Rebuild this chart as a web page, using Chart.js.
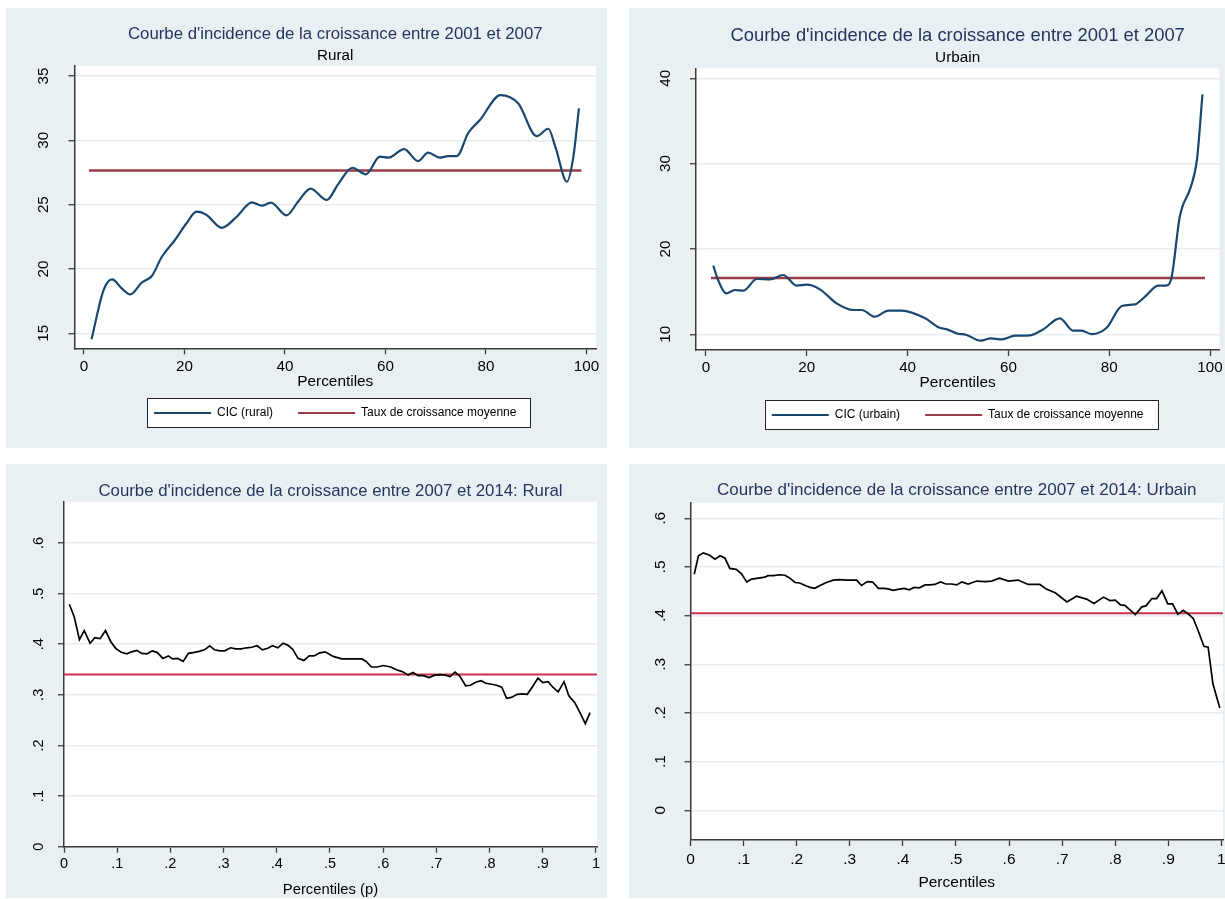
<!DOCTYPE html>
<html>
<head>
<meta charset="utf-8">
<script src="https://cdn.jsdelivr.net/npm/chart.js@4.4.1/dist/chart.umd.min.js"></script>
<style>
body { margin: 0; background: #fff; }
canvas { position: absolute; background: #e9f0f3; }
</style>
</head>
<body>
<canvas id="cicRural" width="601" height="440" style="left:6px;top:8px"></canvas>
<canvas id="cicUrbain" width="596" height="440" style="left:629px;top:8px"></canvas>
<canvas id="cicRural14" width="601" height="434" style="left:6px;top:464px"></canvas>
<canvas id="cicUrbain14" width="596" height="434" style="left:629px;top:464px"></canvas>
<script>
// 2001-2007, rural
const ruralPct = [1.5, 3.9, 5.6, 7.5, 9.2, 11.5, 13.5, 15.5, 18.1, 20.4, 22.4, 24.4, 27.4, 30.4, 33.4, 35.4, 37.2, 40.3, 42.6, 45.1, 48.3, 50.6, 53.4, 56.1, 58.9, 60.6, 63.7, 66.5, 68.5, 70.8, 72.5, 74.2, 76.5, 78.8, 82.9, 86.4, 90.1, 92.4, 93.9, 96.1, 97.4, 98.5];
const ruralCic = [14.53, 18.36, 19.19, 18.49, 18.02, 18.93, 19.45, 20.95, 22.25, 23.55, 24.45, 24.19, 23.2, 24.06, 25.18, 24.92, 25.15, 24.17, 25.23, 26.24, 25.36, 26.6, 27.87, 27.36, 28.73, 28.65, 29.32, 28.39, 29.04, 28.65, 28.78, 28.78, 30.59, 31.58, 33.52, 32.88, 30.33, 30.9, 29.38, 26.78, 28.73, 32.49];
const ruralMean = 27.65;

// 2001-2007, urbain
const urbainPct = [1.45, 2.4, 4.0, 5.75, 7.4, 10.1, 12.7, 15.3, 18.0, 20.0, 22.6, 25.9, 29.2, 30.9, 33.5, 36.2, 38.8, 43.5, 46.1, 47.8, 49.8, 51.7, 54.5, 56.5, 58.7, 61.3, 64.3, 66.9, 70.2, 72.9, 74.5, 76.5, 79.5, 82.5, 85.1, 87.1, 89.7, 91.5, 92.4, 94.0, 96.2, 97.4, 98.5];
const urbainCic = [18.04, 16.36, 14.8, 15.19, 15.11, 16.48, 16.44, 16.95, 15.7, 15.81, 15.27, 13.63, 12.85, 12.85, 12.06, 12.77, 12.77, 11.87, 10.82, 10.58, 10.1, 9.92, 9.25, 9.53, 9.41, 9.84, 9.88, 10.58, 11.87, 10.42, 10.42, 10.03, 10.77, 13.32, 13.51, 14.41, 15.7, 15.74, 16.75, 23.78, 27.3, 30.43, 38.12];
const urbainMean = 16.6;

const meanSpan0107 = [1, 99];
const pctTicks = [0, 20, 40, 60, 80, 100];
const pctTickLabels = ['0', '20', '40', '60', '80', '100'];
const ruralTicks = [15, 20, 25, 30, 35];
const ruralTickLabels = ['15', '20', '25', '30', '35'];
const urbainTicks = [10, 20, 30, 40];
const urbainTickLabels = ['10', '20', '30', '40'];

// 2007-2014, rural
const rural14P = [.010, .019, .029, .038, .049, .058, .068, .078, .088, .098, .108, .118, .127, .137, .146, .156, .166, .175, .186, .196, .204, .214, .224, .234, .245, .254, .264, .274, .283, .293, .302, .313, .323, .333, .343, .353, .363, .373, .383, .392, .402, .412, .421, .430, .440, .451, .461, .470, .481, .491, .506, .522, .541, .560, .568, .578, .589, .600, .614, .626, .636, .647, .656, .666, .676, .686, .697, .707, .716, .726, .735, .744, .755, .764, .774, .784, .793, .804, .813, .823, .832, .841, .852, .862, .871, .882, .891, .900, .910, .919, .929, .940, .949, .960, .970, .980, .989];
const rural14Cic = [.479, .455, .409, .427, .402, .413, .411, .427, .405, .391, .384, .381, .385, .388, .382, .381, .387, .384, .372, .377, .371, .372, .366, .382, .384, .386, .389, .397, .389, .387, .387, .393, .391, .391, .393, .394, .397, .389, .392, .397, .393, .402, .398, .390, .372, .368, .377, .377, .383, .385, .376, .371, .371, .371, .366, .355, .355, .358, .355, .349, .346, .339, .344, .338, .338, .334, .339, .340, .339, .336, .345, .337, .318, .319, .325, .328, .323, .321, .319, .315, .293, .295, .301, .302, .301, .318, .333, .324, .326, .315, .306, .326, .298, .285, .265, .243, .265];
const rural14Mean = .34;

// 2007-2014, urbain
const urbain14P = [.007, .015, .024, .036, .046, .056, .065, .074, .086, .096, .106, .115, .128, .140, .146, .156, .168, .178, .187, .197, .206, .216, .225, .234, .244, .256, .269, .281, .294, .313, .322, .333, .343, .354, .364, .372, .382, .391, .402, .412, .421, .431, .442, .451, .460, .471, .481, .492, .501, .511, .523, .539, .555, .567, .582, .599, .617, .636, .658, .671, .687, .709, .727, .746, .760, .778, .790, .800, .810, .818, .838, .850, .858, .869, .878, .888, .899, .908, .918, .928, .938, .947, .957, .967, .975, .984, .997];
const urbain14Cic = [.485, .523, .529, .524, .516, .523, .518, .497, .495, .486, .469, .475, .477, .479, .482, .482, .484, .483, .477, .468, .467, .462, .458, .456, .462, .468, .473, .474, .473, .473, .462, .470, .469, .456, .456, .455, .452, .454, .456, .453, .458, .457, .463, .463, .464, .469, .465, .465, .463, .469, .465, .471, .470, .471, .477, .471, .473, .464, .464, .454, .447, .428, .440, .434, .425, .438, .431, .432, .422, .421, .402, .418, .420, .435, .435, .451, .424, .424, .403, .411, .403, .394, .367, .337, .335, .260, .210];
const urbain14Mean = .405;

const pTicks = [0, .1, .2, .3, .4, .5, .6, .7, .8, .9, 1];
const pTickLabels = ['0', '.1', '.2', '.3', '.4', '.5', '.6', '.7', '.8', '.9', '1'];
const gTicks = [0, .1, .2, .3, .4, .5, .6];
const gTickLabels = ['0', '.1', '.2', '.3', '.4', '.5', '.6'];
const meanSpan0714 = [0, 1.003];

const FONT = "'Liberation Sans', Arial, sans-serif";
const NAVY = '#1a476f';
const MAROON = '#9b3d46';
const CRIMSON = '#c8324f';
const AXIS = '#3a3a3a';
const GRID = '#e5edf0';
const TITLE = '#25355f';

function pairs(xs, ys) {
    return xs.map((x, i) => ({ x: x, y: ys[i] }));
}

// where the legend row sits, same maths as Chart.js uses for a centred row
function legendFrame(chart) {
    const lg = chart.legend;
    if (!lg || !lg.options.display || !lg.lineWidths) return null;
    const pad = lg.options.labels.padding;
    const x0 = (lg.left + pad + lg.right - lg.lineWidths[0]) / 2;
    const x1 = x0 + lg.lineWidths[0] - pad;
    const cy = lg.top + pad + 6;
    return { x: x0 - 7, y: cy - 15, w: x1 - x0 + 21, h: 29 };
}

const panelPlugin = {
    id: 'panel',
    beforeDraw(chart) {
        const ctx = chart.ctx;
        const a = chart.chartArea;
        ctx.save();
        ctx.fillStyle = '#ffffff';
        ctx.fillRect(a.left, a.top, a.right - a.left, a.bottom - a.top);
        const f = legendFrame(chart);
        if (f) ctx.fillRect(f.x, f.y, f.w, f.h);
        ctx.restore();
    },
    afterDraw(chart) {
        const f = legendFrame(chart);
        if (!f) return;
        const ctx = chart.ctx;
        ctx.save();
        ctx.strokeStyle = '#222';
        ctx.lineWidth = 1;
        ctx.strokeRect(Math.round(f.x) + 0.5, Math.round(f.y) + 0.5, Math.round(f.w), Math.round(f.h));
        ctx.restore();
    }
};

function xScale(o) {
    return {
        type: 'linear',
        min: o.min,
        max: o.max,
        afterBuildTicks: s => { s.ticks = o.ticks.map(v => ({ value: v })); },
        afterFit: s => { s.height = o.height; s.paddingLeft = 0; s.paddingRight = 0; },
        ticks: {
            autoSkip: false,
            maxRotation: 0,
            padding: o.tickPad,
            color: '#000',
            font: { family: FONT, size: o.fontSize },
            callback: (v, i) => o.labels[i]
        },
        grid: { drawOnChartArea: false, tickLength: 6, tickColor: AXIS, tickWidth: 1.3 },
        border: { color: AXIS, width: 1.5 },
        title: {
            display: true,
            text: o.title,
            color: '#000',
            font: { family: FONT, size: o.titleSize },
            padding: { top: 0, bottom: o.titlePad }
        }
    };
}

function yScale(o) {
    return {
        type: 'linear',
        min: o.min,
        max: o.max,
        afterBuildTicks: s => { s.ticks = o.ticks.map(v => ({ value: v })); },
        afterFit: s => { s.width = o.width; s.paddingTop = 0; s.paddingBottom = 0; },
        ticks: {
            autoSkip: false,
            minRotation: 90,
            maxRotation: 90,
            crossAlign: 'center',
            padding: o.tickPad,
            color: '#000',
            font: { family: FONT, size: o.fontSize },
            callback: (v, i) => o.labels[i]
        },
        grid: { color: GRID, lineWidth: 1.5, tickLength: 6, tickColor: AXIS, tickWidth: 1.3 },
        border: { color: AXIS, width: 1.5 }
    };
}

const legendOpts = {
    display: true,
    position: 'bottom',
    fullSize: false,
    labels: {
        boxWidth: 57,
        boxHeight: 2,
        padding: 25,
        color: '#000',
        font: { family: FONT, size: 12 },
        generateLabels: chart => Chart.defaults.plugins.legend.labels.generateLabels(chart)
            .map(it => Object.assign(it, { fillStyle: it.strokeStyle, lineWidth: 0 }))
    }
};

const charts = [];

charts.push(new Chart(document.getElementById('cicRural'), {
    type: 'line',
    data: {
        datasets: [
            {
                label: 'CIC (rural)',
                data: pairs(ruralPct, ruralCic),
                borderColor: NAVY,
                backgroundColor: NAVY,
                borderWidth: 2.2,
                pointRadius: 0,
                cubicInterpolationMode: 'monotone'
            },
            {
                label: 'Taux de croissance moyenne',
                data: pairs(meanSpan0107, [ruralMean, ruralMean]),
                borderColor: MAROON,
                backgroundColor: MAROON,
                borderWidth: 2.6,
                pointRadius: 0
            }
        ]
    },
    options: {
        responsive: false,
        animation: false,
        events: [],
        layout: { padding: { top: 0, left: 0, right: 11, bottom: 19 } },
        plugins: {
            title: {
                display: true, fullSize: false,
                text: "Courbe d'incidence de la croissance entre 2001 et 2007",
                color: TITLE,
                font: { family: FONT, size: 16.8, weight: 'normal' },
                padding: { top: 16.2, bottom: 2.2 }
            },
            subtitle: {
                display: true, fullSize: false,
                text: 'Rural',
                color: '#000',
                font: { family: FONT, size: 15.2, weight: 'normal' },
                padding: { top: 0, bottom: 1.2 }
            },
            legend: legendOpts,
            tooltip: { enabled: false }
        },
        scales: {
            x: xScale({ min: -1.89, max: 101.9, ticks: pctTicks, labels: pctTickLabels, height: 33.7, tickPad: 3.3, fontSize: 15.2, title: 'Percentiles', titleSize: 15.4, titlePad: -9.24 }),
            y: yScale({ min: 13.83, max: 35.78, ticks: ruralTicks, labels: ruralTickLabels, width: 68.5, tickPad: 16, fontSize: 15.2 })
        }
    },
    plugins: [panelPlugin]
}));

charts.push(new Chart(document.getElementById('cicUrbain'), {
    type: 'line',
    data: {
        datasets: [
            {
                label: 'CIC (urbain)',
                data: pairs(urbainPct, urbainCic),
                borderColor: NAVY,
                backgroundColor: NAVY,
                borderWidth: 2.2,
                pointRadius: 0,
                cubicInterpolationMode: 'monotone'
            },
            {
                label: 'Taux de croissance moyenne',
                data: pairs(meanSpan0107, [urbainMean, urbainMean]),
                borderColor: MAROON,
                backgroundColor: MAROON,
                borderWidth: 2.6,
                pointRadius: 0
            }
        ]
    },
    options: {
        responsive: false,
        animation: false,
        events: [],
        layout: { padding: { top: 0, left: 0, right: 5.7, bottom: 17 } },
        plugins: {
            title: {
                display: true, fullSize: false,
                text: "Courbe d'incidence de la croissance entre 2001 et 2007",
                color: TITLE,
                font: { family: FONT, size: 18.4, weight: 'normal' },
                padding: { top: 16.66, bottom: 1.78 }
            },
            subtitle: {
                display: true, fullSize: false,
                text: 'Urbain',
                color: '#000',
                font: { family: FONT, size: 15.3, weight: 'normal' },
                padding: { top: 0, bottom: 1.42 }
            },
            legend: legendOpts,
            tooltip: { enabled: false }
        },
        scales: {
            x: xScale({ min: -1.98, max: 101.84, ticks: pctTicks, labels: pctTickLabels, height: 34, tickPad: 2.9, fontSize: 15.2, title: 'Percentiles', titleSize: 15.4, titlePad: -7.94 }),
            y: yScale({ min: 8.16, max: 41.17, ticks: urbainTicks, labels: urbainTickLabels, width: 67, tickPad: 16, fontSize: 15.2 })
        }
    },
    plugins: [panelPlugin]
}));

charts.push(new Chart(document.getElementById('cicRural14'), {
    type: 'line',
    data: {
        datasets: [
            {
                label: 'CIC',
                data: pairs(rural14P, rural14Cic),
                borderColor: '#000',
                borderWidth: 1.7,
                pointRadius: 0,
                tension: 0
            },
            {
                label: 'Moyenne',
                data: pairs(meanSpan0714, [rural14Mean, rural14Mean]),
                borderColor: CRIMSON,
                borderWidth: 2,
                pointRadius: 0
            }
        ]
    },
    options: {
        responsive: false,
        animation: false,
        events: [],
        layout: { padding: { top: 0, left: 0, right: 10, bottom: 0 } },
        plugins: {
            title: {
                display: true, fullSize: false,
                text: "Courbe d'incidence de la croissance entre 2007 et 2014: Rural",
                color: TITLE,
                font: { family: FONT, size: 16.8, weight: 'normal' },
                padding: { top: 17.6, bottom: 0 }
            },
            legend: { display: false },
            tooltip: { enabled: false }
        },
        scales: {
            x: xScale({ min: 0, max: 1.002, ticks: pTicks, labels: pTickLabels, height: 51.3, tickPad: 2.6, fontSize: 14.5, title: 'Percentiles (p)', titleSize: 14.8, titlePad: -0.7 }),
            y: yScale({ min: 0, max: .6815, ticks: gTicks, labels: gTickLabels, width: 58, tickPad: 13, fontSize: 14.5 })
        }
    },
    plugins: [panelPlugin]
}));

charts.push(new Chart(document.getElementById('cicUrbain14'), {
    type: 'line',
    data: {
        datasets: [
            {
                label: 'CIC',
                data: pairs(urbain14P, urbain14Cic),
                borderColor: '#000',
                borderWidth: 1.7,
                pointRadius: 0,
                tension: 0
            },
            {
                label: 'Moyenne',
                data: pairs(meanSpan0714, [urbain14Mean, urbain14Mean]),
                borderColor: CRIMSON,
                borderWidth: 2,
                pointRadius: 0
            }
        ]
    },
    options: {
        responsive: false,
        animation: false,
        events: [],
        layout: { padding: { top: 0, left: 0, right: 2, bottom: 0 } },
        plugins: {
            title: {
                display: true, fullSize: false,
                text: "Courbe d'incidence de la croissance entre 2007 et 2014: Urbain",
                color: TITLE,
                font: { family: FONT, size: 17, weight: 'normal' },
                padding: { top: 15.8, bottom: 2.5 }
            },
            legend: { display: false },
            tooltip: { enabled: false }
        },
        scales: {
            x: xScale({ min: 0, max: 1.003, ticks: pTicks, labels: pTickLabels, height: 58, tickPad: 4, fontSize: 15.5, title: 'Percentiles', titleSize: 15.5, titlePad: 6 }),
            y: yScale({ min: -.061, max: .632, ticks: gTicks, labels: gTickLabels, width: 61.5, tickPad: 17, fontSize: 15.5 })
        }
    },
    plugins: [panelPlugin]
}));
</script>
</body>
</html>
